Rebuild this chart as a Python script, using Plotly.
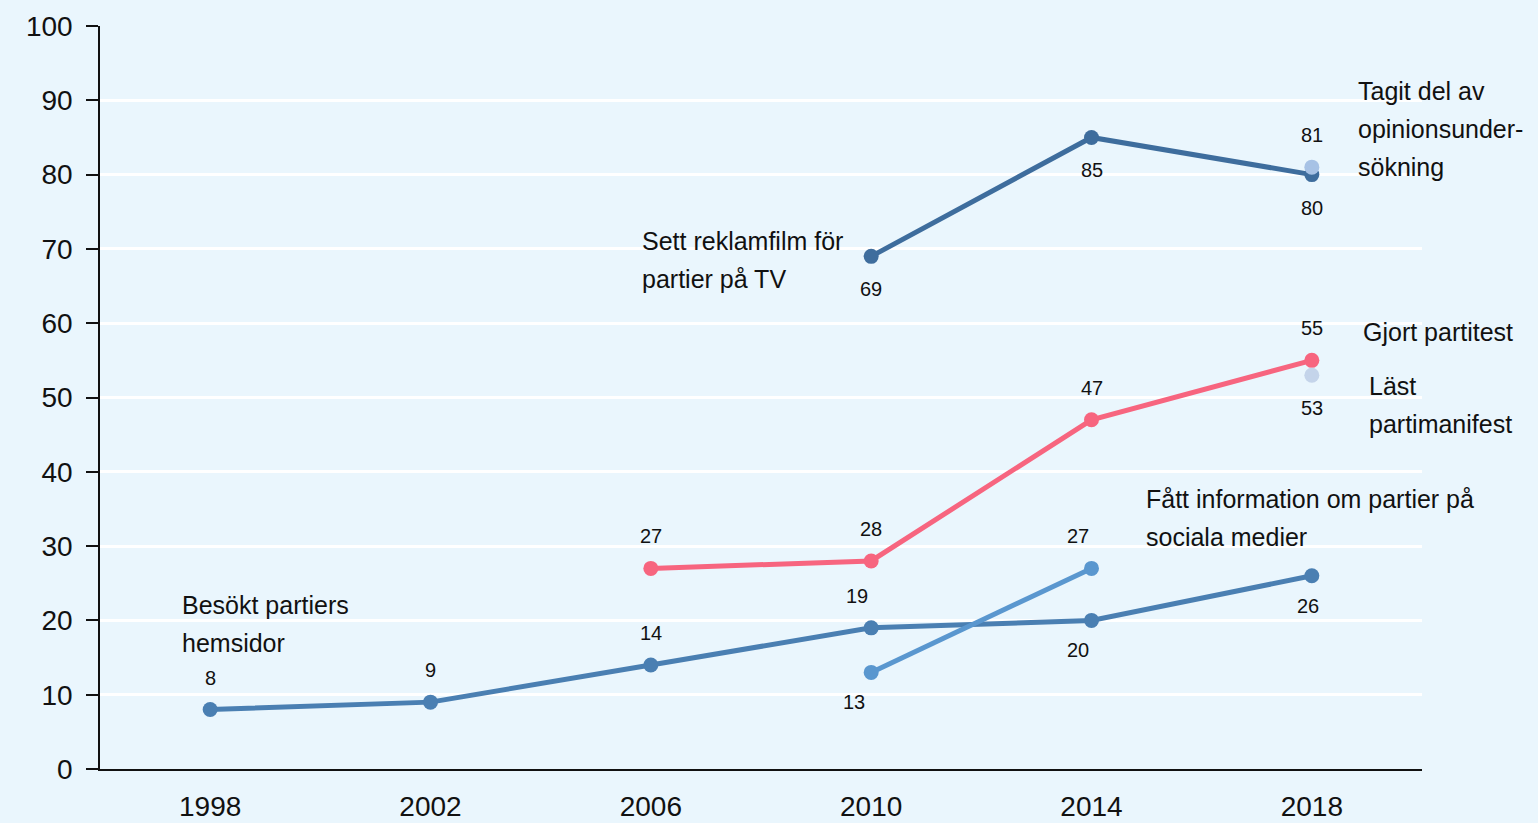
import plotly.graph_objects as go

years = [1998, 2002, 2006, 2010, 2014, 2018]

besokt_years = [1998, 2002, 2006, 2010, 2014, 2018]
besokt_vals = [8, 9, 14, 19, 20, 26]

reklam_years = [2010, 2014, 2018]
reklam_vals = [69, 85, 80]

partitest_years = [2006, 2010, 2014, 2018]
partitest_vals = [27, 28, 47, 55]

sociala_years = [2010, 2014]
sociala_vals = [13, 27]

opinion_years = [2018]
opinion_vals = [81]

manifest_years = [2018]
manifest_vals = [53]

FONT = "Liberation Sans Narrow, Arial Narrow, Liberation Sans, Arial"
BG = "#eaf6fd"

# (x, y, colour, label offsets per point as (dx, dy) in px)
series = [
    (besokt_years, besokt_vals, "#4a7fb2",
     [(0, 32), (0, 32), (0, 32), (-14, 32), (-14, -30), (-4, -30)]),
    (sociala_years, sociala_vals, "#5a97cf", [(-17, -30), (-14, 32)]),
    (partitest_years, partitest_vals, "#f7657f", [(0, 32), (0, 32), (0, 32), (0, 32)]),
    (reklam_years, reklam_vals, "#3e6d9d", [(0, -33), (0, -33), (0, -33)]),
    (manifest_years, manifest_vals, "#c4d4ea", [(0, -33)]),
    (opinion_years, opinion_vals, "#a7c2e5", [(0, 32)]),
]

fig = go.Figure()
annotations = []
for xs, ys, colour, offs in series:
    fig.add_trace(go.Scatter(
        x=xs, y=ys, mode="lines+markers",
        line=dict(color=colour, width=5),
        marker=dict(color=colour, size=15),
        showlegend=False, hoverinfo="x+y",
    ))
    for x, y, (dx, dy) in zip(xs, ys, offs):
        annotations.append(dict(
            x=x, y=y, text=str(y), showarrow=False,
            xshift=dx, yshift=dy,
            font=dict(family=FONT, size=20, color="#111111"),
        ))

# series name labels: (x, y of first line, lines)
series_labels = [
    (1997.45, 22.1, ["Besökt partiers", "hemsidor"]),
    (2005.8, 71.0, ["Sett reklamfilm för", "partier på TV"]),
    (2018.8, 91.3, ["Tagit del av", "opinionsunder-", "sökning"]),
    (2018.9, 58.8, ["Gjort partitest"]),
    (2019.0, 51.6, ["Läst", "partimanifest"]),
    (2014.95, 36.4, ["Fått information om partier på", "sociala medier"]),
]
for x, y, lines in series_labels:
    for i, txt in enumerate(lines):
        annotations.append(dict(
            x=x, y=y, text=txt, showarrow=False, xanchor="left", yanchor="middle",
            yshift=-38 * i,
            font=dict(family=FONT, size=25, color="#111111"),
        ))

fig.update_layout(
    width=1538, height=823,
    margin=dict(l=100, r=116, t=26, b=54),
    paper_bgcolor=BG, plot_bgcolor=BG,
    annotations=annotations,
    xaxis=dict(
        range=[1996, 2020], tickvals=years, ticktext=[str(y) for y in years],
        showgrid=False, zeroline=False, showline=True, linecolor="#111111",
        linewidth=1.5, ticks="", ticklabelstandoff=12, automargin=False,
        tickfont=dict(family=FONT, size=28, color="#111111"),
    ),
    yaxis=dict(
        range=[0, 100], dtick=10, showgrid=True, gridcolor="white", gridwidth=3,
        zeroline=False, showline=True, linecolor="#111111", linewidth=1.5,
        ticks="outside", ticklen=12, tickcolor="#111111", tickwidth=1.5,
        ticklabelstandoff=8, automargin=False,
        tickfont=dict(family=FONT, size=28, color="#111111"),
    ),
)

fig.write_html(
    "out.html",
    config={"displayModeBar": False},
    post_script="document.body.style.margin='0';document.body.style.background='%s';" % BG,
)
